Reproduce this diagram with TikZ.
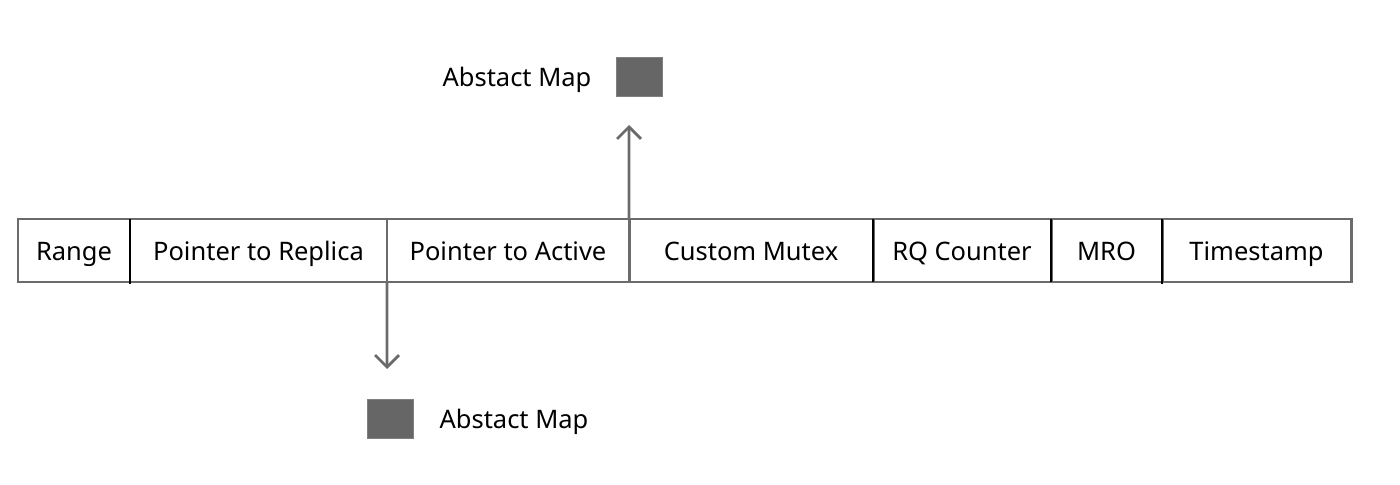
\documentclass[tikz,border=0pt]{standalone}
\usepackage{fontspec}
\setmainfont{Noto Sans}
\usetikzlibrary{arrows.meta,positioning}
\definecolor{linegray}{HTML}{6B6B6B}
\definecolor{boxgray}{HTML}{666666}
\tikzset{
  field/.style={draw=linegray, line width=1.7pt, minimum height=1.26cm, inner sep=0pt, outer sep=0pt,
    text height=2.5ex, text depth=0.35ex, font=\fontsize{14.5}{17}\selectfont},
  sep/.style={black, line width=1.6pt},                          % darker divider between fields
  ptr/.style={linegray, line width=1.6pt, -{Straight Barb[length=2.4mm,width=4.8mm,line width=1.6pt]}},
  mapbox/.style={fill=boxgray, draw=gray, thin, minimum width=0.92cm, minimum height=0.78cm, inner sep=0pt},
  maplabel/.style={font=\fontsize{14.5}{17}\selectfont},
}
\begin{document}
\begin{tikzpicture}
  \useasboundingbox (0,0) rectangle (28,9.7);
  % the record, field by field
  \node[field, minimum width=2.24cm, anchor=south west] (range) at (0.36,4.06) {Range};
  \node[field, minimum width=5.14cm, right=0pt of range] (replica) {Pointer to Replica};
  \node[field, minimum width=4.84cm, right=0pt of replica] (active) {Pointer to Active};
  \node[field, minimum width=4.88cm, right=0pt of active] (mutex) {Custom Mutex};
  \node[field, minimum width=3.56cm, right=0pt of mutex] (rqcount) {RQ Counter};
  \node[field, minimum width=2.22cm, right=0pt of rqcount] (mro) {MRO};
  \node[field, minimum width=3.78cm, right=0pt of mro] (stamp) {Timestamp};
  % black separators
  \draw[sep] (range.north east) -- ([yshift=-0.05cm]range.south east);
  \draw[sep] (mutex.north east) -- (mutex.south east);
  \draw[sep] (rqcount.north east) -- (rqcount.south east);
  \draw[sep] (mro.north east) -- ([yshift=-0.05cm]mro.south east);
  % the two abstract maps
  \node[mapbox] (mapup) at (12.78,8.17) {};
  \node[maplabel] (mapuplbl) at (10.34,8.11) {Abstact Map};
  \node[mapbox] (mapdown) at (7.8,1.33) {};
  \node[maplabel] (mapdownlbl) at (10.28,1.27) {Abstact Map};
  % pointers
  \coordinate (uptip) at (12.58,7.2);
  \coordinate (downtip) at (7.74,2.32);
  \draw[ptr] (active.north east) -- (uptip);
  \draw[ptr] (replica.south east) -- (downtip);
\end{tikzpicture}
\end{document}
